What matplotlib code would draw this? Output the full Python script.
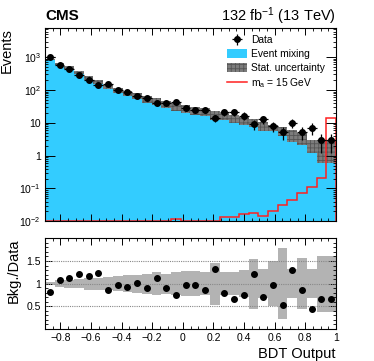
import numpy as np
import matplotlib
matplotlib.use("Agg")
import matplotlib.pyplot as plt
from matplotlib.patches import Patch
from matplotlib.lines import Line2D
from matplotlib.ticker import MultipleLocator, FixedLocator, LogLocator, NullFormatter, FuncFormatter

plt.rcParams['font.family'] = ['Liberation Sans', 'DejaVu Sans']
plt.rcParams['mathtext.fontset'] = 'custom'
plt.rcParams['mathtext.rm'] = 'Liberation Sans'
plt.rcParams['mathtext.it'] = 'Liberation Sans:italic'
plt.rcParams['mathtext.bf'] = 'Liberation Sans:bold'
plt.rcParams['hatch.linewidth'] = 0.6

# 30 bins of BDT output from -0.9 to 1
edges = np.linspace(-0.9, 1.0, 31)
centers = 0.5 * (edges[:-1] + edges[1:])

data = [1000, 596, 430, 282, 203, 143, 150, 103, 87, 66, 59, 40, 41, 43, 28,
        25, 25, 14, 21, 21, 16.6, 9, 12.9, 7.9, 5.2, 10, 5.2, 7, 2.9, 2.9]
bkg = [830, 640, 490, 345, 240, 178, 128, 99, 81, 67, 53, 45, 37, 32, 27.5,
       24, 22, 17.5, 16, 13.8, 11.8, 10, 8.1, 7.2, 5.8, 4.4, 3.4, 2.1, 1.8, 1.8]
bkg_err = [33, 45, 44, 35, 31, 23, 19, 17, 15, 13, 12, 11, 8, 8.3, 7.7,
           6.7, 5.5, 5, 4, 3.6, 3.4, 2.7, 2.4, 1.65, 1.9, 1.7, 1.35, 0.9, 1.2, 1.2]
signal = [0.01, 0.01, 0.01, 0.01, 0.01, 0.01, 0.01, 0.01, 0.01, 0.01, 0.01, 0.01, 0.01,
          0.0117, 0.01, 0.01, 0.01, 0.01,
          0.0138, 0.0138, 0.0163, 0.0175, 0.0145, 0.021, 0.031, 0.0446, 0.074, 0.113, 0.205, 13.8]
ratio = [0.82, 1.07, 1.13, 1.22, 1.17, 1.24, 0.85, 0.96, 0.93, 1.01, 0.90, 1.13, 0.91, 0.75, 0.98,
         0.96, 0.85, 1.32, 0.79, 0.67, 0.75, 1.22, 0.70, 0.96, 0.54, 1.31, 0.87, 0.45, 0.67, 0.67]
ratio_err = [0.04, 0.07, 0.09, 0.10, 0.13, 0.13, 0.15, 0.17, 0.18, 0.20, 0.22, 0.25, 0.22, 0.26, 0.28,
             0.28, 0.25, 0.46, 0.25, 0.26, 0.29, 0.55, 0.32, 0.49, 0.78, 0.32, 0.57, 0.32, 0.62, 0.62]

data = np.array(data)
bkg = np.array(bkg)
bkg_err = np.array(bkg_err)
ratio = np.array(ratio)
ratio_err = np.array(ratio_err)

blue = '#33ccff'
W, H = 374, 361
fig = plt.figure(figsize=(W / 100, H / 100), dpi=100)
ax = fig.add_axes([45 / W, 1 - 221.3 / H, 291 / W, 193 / H])
rax = fig.add_axes([45 / W, 1 - 329 / H, 291 / W, 90.7 / H])

# main panel
ax.stairs(bkg, edges, fill=True, baseline=1e-4, color=blue, lw=0)
ax.stairs(bkg + bkg_err, edges, baseline=bkg - bkg_err, fill=True,
          facecolor='#7c7c7c', edgecolor='#555555', hatch='++++', lw=0)
ax.stairs(signal, edges, baseline=0.01, color='#ff2020', lw=1.1)
hw = 0.5 * (edges[1] - edges[0])
eb = ax.errorbar(centers, data, xerr=hw, yerr=np.sqrt(data), fmt='o', color='black',
                 ms=4, lw=0.9, capsize=0)

ax.set_yscale('log')
ax.set_xlim(-0.9, 1.0)
ax.set_ylim(0.01, 7.6e3)
ax.yaxis.set_major_locator(FixedLocator([1e-2, 1e-1, 1, 10, 1e2, 1e3]))
ax.set_yticklabels(['$10^{-2}$', '$10^{-1}$', '1', '10', '$10^{2}$', '$10^{3}$'])
ax.yaxis.set_minor_locator(LogLocator(base=10, subs=np.arange(2, 10), numticks=20))
ax.yaxis.set_minor_formatter(NullFormatter())
ax.xaxis.set_major_locator(MultipleLocator(0.2))
ax.xaxis.set_minor_locator(MultipleLocator(0.05))
ax.tick_params(axis='x', labelbottom=False)
ax.set_ylabel('Events', loc='top', fontsize=10.5, labelpad=4)

# ratio panel
rax.stairs(1 + ratio_err, edges, baseline=1 - ratio_err, fill=True, color='#b3b3b3', lw=0)
for yv in [0.5, 1.0, 1.5]:
    rax.axhline(yv, color='#888888', ls=(0, (1, 1)), lw=0.8)
rax.plot(centers, ratio, 'o', color='black', ms=4)
rax.set_xlim(-0.9, 1.0)
rax.set_ylim(0, 2)
rax.yaxis.set_major_locator(FixedLocator([0.5, 1.0, 1.5]))
rax.set_yticklabels(['0.5', '1', '1.5'])
rax.yaxis.set_minor_locator(MultipleLocator(0.1))
rax.xaxis.set_major_locator(MultipleLocator(0.2))
rax.xaxis.set_minor_locator(MultipleLocator(0.05))
rax.xaxis.set_major_formatter(FuncFormatter(lambda v, p: ('%g' % round(v, 1)).replace('-', '\u2212')))
rax.set_ylabel('Bkg./Data', loc='top', fontsize=10.5, labelpad=4)
rax.set_xlabel('BDT Output', loc='right', fontsize=10.5, labelpad=3)

for a in (ax, rax):
    a.tick_params(which='both', direction='in', top=True, right=True, labelsize=7.5, pad=3)
    a.tick_params(which='major', length=5, width=0.7)
    a.tick_params(which='minor', length=2.5, width=0.6)
    for s in a.spines.values():
        s.set_linewidth(0.8)
ax.tick_params(axis='y', which='major', length=7)

# legend
handles = [eb,
           Patch(facecolor=blue, lw=0),
           Patch(facecolor='#7c7c7c', edgecolor='#555555', hatch='++++', lw=0),
           Line2D([], [], color='#ff2020', lw=1.1)]
labels = ['Data', 'Event mixing', 'Stat. uncertainty', 'm$_{\\mathrm{a}}$ = 15 GeV']
ax.legend(handles, labels, loc='upper left', bbox_to_anchor=(0.61, 0.985), frameon=False,
          fontsize=7.4, handlelength=2.0, handleheight=1.0, labelspacing=0.35,
          handletextpad=0.4, borderaxespad=0)

fig.text(45 / W, 1 - 16 / H, 'CMS', fontsize=11, fontweight='bold', ha='left', va='center')
fig.text(336 / W, 1 - 16 / H, '132 fb$^{-1}$ (13 TeV)', fontsize=10.5, ha='right', va='center')

fig.savefig('out.png', dpi=100)
